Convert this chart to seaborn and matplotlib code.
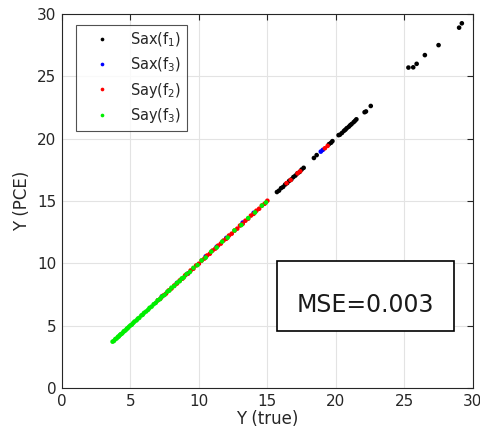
import numpy as np
import pandas as pd
import matplotlib
matplotlib.use("Agg")
import matplotlib.pyplot as plt
from matplotlib.patches import Rectangle
import seaborn as sns

# ---- data ----
sax_f1_x = [15.7, 15.85, 16.0, 16.15, 16.3, 16.45, 16.6, 16.75, 16.9, 17.05, 17.2, 17.35, 17.5, 17.65,
            18.4, 18.6, 19.5, 19.65, 19.75,
            20.2, 20.3, 20.45, 20.6, 20.7, 20.8, 20.95, 21.05, 21.15, 21.3, 21.4, 21.5,
            22.1, 22.2, 22.55, 25.3, 25.65, 25.9, 26.5, 27.5, 29.0, 29.2]
sax_f1_y = [15.72, 15.83, 16.03, 16.13, 16.32, 16.44, 16.62, 16.73, 16.92, 17.04, 17.22, 17.33, 17.52, 17.66,
            18.45, 18.68, 19.56, 19.67, 19.8,
            20.28, 20.32, 20.46, 20.63, 20.72, 20.84, 20.96, 21.08, 21.17, 21.32, 21.43, 21.55,
            22.12, 22.18, 22.62, 25.7, 25.72, 26.0, 26.7, 27.5, 28.9, 29.25]

sax_f3_x = [7.3, 8.4, 9.2, 10.5, 11.3, 12.0, 13.2, 14.0, 18.9, 19.05]
sax_f3_y = [7.35, 8.43, 9.18, 10.56, 11.33, 12.04, 13.27, 14.05, 18.96, 19.1]

say_f2_x = [7.0, 7.2, 7.4, 7.6, 7.8, 8.0, 8.2, 8.4, 8.6, 8.8,
            9.0, 9.2, 9.4, 9.6, 9.8, 10.0, 10.2, 10.4, 10.6, 10.8,
            11.0, 11.2, 11.4, 11.6, 11.8, 12.0, 12.2, 12.4, 12.6, 12.8,
            13.0, 13.2, 13.4, 13.6, 13.8, 14.0, 14.2, 14.4, 14.6, 14.8,
            15.0, 16.4, 16.7, 17.2, 17.4, 19.2, 19.4]
say_f2_y = [7.03, 7.18, 7.42, 7.57, 7.83, 7.98, 8.22, 8.38, 8.63, 8.77,
            9.04, 9.18, 9.43, 9.57, 9.83, 9.97, 10.22, 10.38, 10.63, 10.77,
            11.03, 11.18, 11.42, 11.58, 11.83, 11.97, 12.23, 12.38, 12.62, 12.78,
            13.03, 13.17, 13.42, 13.58, 13.83, 13.97, 14.22, 14.38, 14.63, 14.78,
            15.02, 16.43, 16.68, 17.22, 17.38, 19.23, 19.42]

say_f3_x = [3.7, 3.8, 3.9, 4.0, 4.1, 4.15, 4.25, 4.3, 4.4, 4.5, 4.55, 4.65, 4.75, 4.8, 4.9,
            5.0, 5.1, 5.2, 5.3, 5.45, 5.55, 5.65, 5.8, 5.9, 6.0, 6.15, 6.3, 6.4, 6.55, 6.7,
            6.85, 7.0, 7.15, 7.3, 7.5, 7.7, 7.85, 8.0, 8.2, 8.4, 8.6, 8.75, 8.9, 9.1, 9.35,
            9.6, 9.9, 10.2, 10.5, 10.9, 11.3, 11.7, 12.1, 12.6, 13.1, 13.6, 14.1, 14.6, 14.9]
say_f3_y = [3.72, 3.78, 3.93, 3.98, 4.12, 4.13, 4.27, 4.31, 4.38, 4.52, 4.57, 4.63, 4.77, 4.79, 4.92,
            5.02, 5.08, 5.21, 5.33, 5.43, 5.57, 5.63, 5.82, 5.88, 6.03, 6.14, 6.28, 6.43, 6.53, 6.72,
            6.83, 7.04, 7.12, 7.33, 7.47, 7.73, 7.82, 8.05, 8.18, 8.43, 8.57, 8.79, 8.87, 9.14, 9.31,
            9.64, 9.86, 10.23, 10.46, 10.94, 11.27, 11.74, 12.06, 12.64, 13.07, 13.63, 14.08, 14.63, 14.88]

series_labels = ["Sax(f$_1$)", "Sax(f$_3$)", "Say(f$_2$)", "Say(f$_3$)"]
series_colors = ["#000000", "#0000ff", "#ff0000", "#00ee00"]
ticks = [0, 5, 10, 15, 20, 25, 30]
mse_text = "MSE=0.003"

frames = []
for lab, xs, ys in zip(series_labels,
                       [sax_f1_x, sax_f3_x, say_f2_x, say_f3_x],
                       [sax_f1_y, sax_f3_y, say_f2_y, say_f3_y]):
    frames.append(pd.DataFrame({"x": xs, "y": ys, "series": lab}))
df = pd.concat(frames, ignore_index=True)

sns.set_style("white")
plt.rcParams["font.family"] = ["DejaVu Sans"]

fig = plt.figure(figsize=(4.8, 4.36), dpi=100)
ax = fig.add_axes([0.129, 0.110, 0.856, 0.858])

sns.scatterplot(data=df, x="x", y="y", hue="series", hue_order=series_labels,
                palette=dict(zip(series_labels, series_colors)),
                s=11, linewidth=0, marker="o", ax=ax, legend=True)

ax.set_xlim(0, 30)
ax.set_ylim(0, 30)
ax.set_xticks(ticks)
ax.set_yticks(ticks)
ax.grid(True, color="#e3e3e3", linewidth=0.8)
ax.set_axisbelow(True)
tc = "#262626"
ax.tick_params(direction="in", top=True, right=True, length=4, width=0.8,
               labelsize=11, colors=tc, pad=4)
for sp in ax.spines.values():
    sp.set_visible(True)
    sp.set_color(tc)
    sp.set_linewidth(0.8)
ax.set_xlabel("Y (true)", fontsize=12, color=tc, labelpad=1)
ax.set_ylabel("Y (PCE)", fontsize=12, color=tc, labelpad=4)

leg = ax.legend(loc="upper left", bbox_to_anchor=(0.034, 0.971), fontsize=10.5,
                frameon=True, fancybox=False, markerscale=0.8, handletextpad=0.5,
                borderpad=0.4, labelspacing=0.45, handlelength=2.8, borderaxespad=0)
leg.get_frame().set_edgecolor(tc)
leg.get_frame().set_linewidth(0.8)
for t in leg.get_texts():
    t.set_color(tc)

ax.add_patch(Rectangle((0.523, 0.152), 0.431, 0.188, transform=ax.transAxes,
                       fill=True, facecolor="white", edgecolor="black", linewidth=1.2, zorder=5))
ax.text(0.738, 0.222, mse_text, transform=ax.transAxes, fontsize=17, color="#1a1a1a",
        ha="center", va="center", zorder=6)

fig.savefig("out.png", dpi=100)
